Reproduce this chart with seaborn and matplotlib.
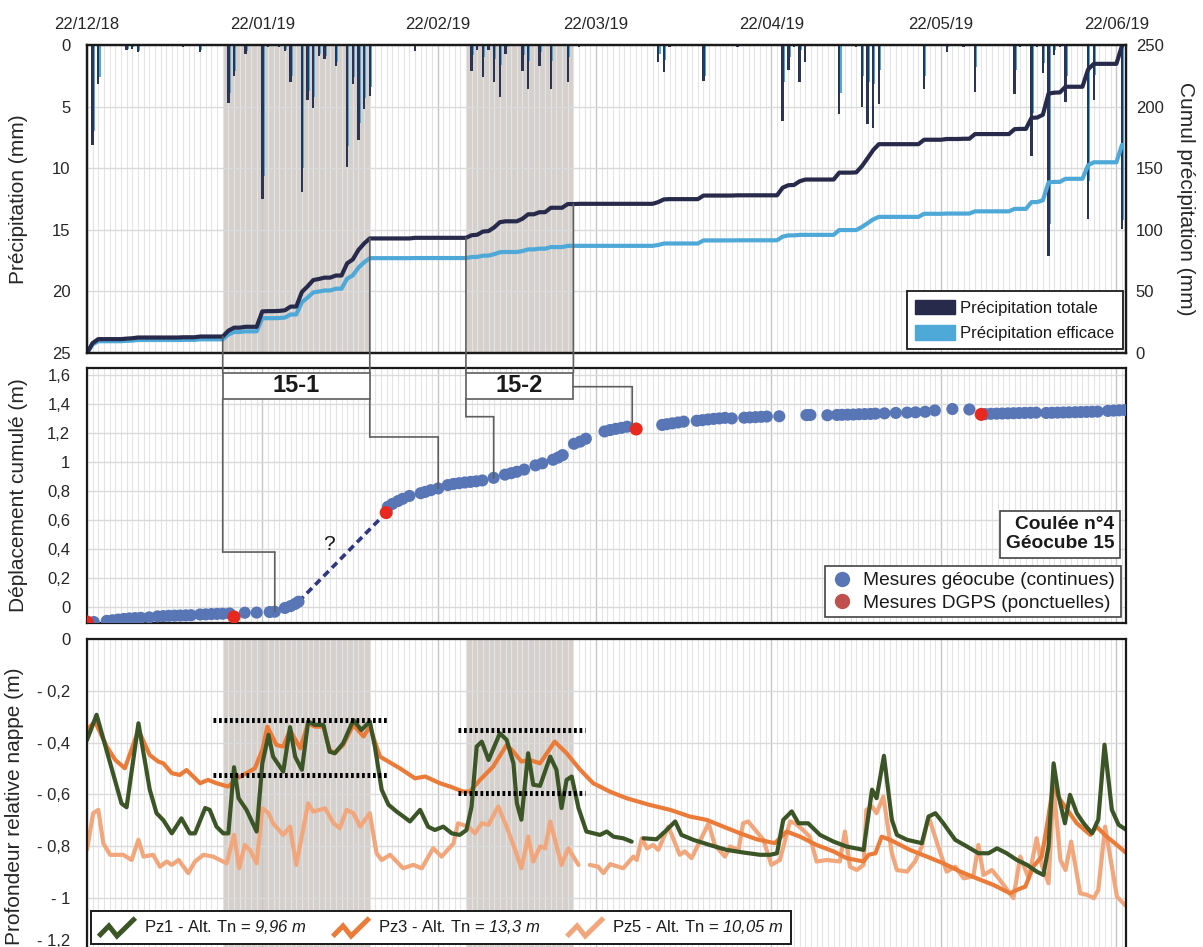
import numpy as np
import pandas as pd
import matplotlib
matplotlib.use("Agg")
import matplotlib.pyplot as plt
import matplotlib.dates as mdates
from matplotlib.patches import Rectangle, ConnectionPatch, Patch
from matplotlib.lines import Line2D
from matplotlib.legend_handler import HandlerBase
from matplotlib.ticker import FuncFormatter
import seaborn as sns

sns.set_style("white")
plt.rcParams["font.family"] = ["Liberation Sans", "DejaVu Sans"]
# math segments are only used for the italic altitude values in the legend
plt.rcParams["mathtext.fontset"] = "custom"
plt.rcParams["mathtext.rm"] = "Liberation Sans:italic"
plt.rcParams["mathtext.it"] = "Liberation Sans:italic"
plt.rcParams["text.color"] = "#1a1a1a"

# ---------------------------------------------------------------- data
START = pd.Timestamp("2018-12-22")      # day 0
END_DAY = 183.7

# daily rainfall (day index, mm)
rain_days = [1, 2, 7, 8, 9, 17, 20,
             25, 26, 28, 31, 32, 34, 35, 36, 38, 39, 40, 41, 42, 44, 46, 47, 48, 49, 50,
             58, 68, 69, 70, 71, 72, 73, 74, 77, 78, 80, 82, 85, 87,
             101, 102, 103, 109, 115, 123, 124, 125, 126, 127, 133, 136, 137, 138, 139, 140,
             148, 152, 155, 157, 164, 165, 167, 168, 169, 170, 171, 172, 173, 177, 178, 183]
rain_total = [8.1, 3.2, 0.4, 0.3, 0.6, 0.2, 0.6,
              4.7, 2.5, 0.7, 12.5, 0.2, 0.2, 0.5, 3.0, 11.9, 4.5, 5.1, 0.9, 1.1, 1.7, 9.9, 3.2, 7.7, 5.2, 4.1,
              0.5, 2.1, 0.4, 2.6, 0.4, 3.0, 4.2, 0.7, 2.1, 3.6, 1.7, 3.6, 3.0, 0.2,
              1.4, 2.2, 0.2, 2.9, 0.2, 6.2, 2.0, 0.2, 3.0, 1.4, 5.6, 0.2, 5.0, 6.4, 6.7, 4.8,
              3.6, 0.6, 0.2, 3.8, 4.0, 0.2, 9.0, 0.2, 2.3, 17.1, 0.8, 0.2, 4.6, 14.1, 4.5, 14.9]
rain_eff = [7.0, 2.6, 0.3, 0.2, 0.5, 0.1, 0.4,
            3.9, 2.1, 0.5, 10.6, 0.1, 0.1, 0.4, 2.5, 10.0, 3.7, 4.2, 0.7, 0.9, 1.4, 8.2, 2.6, 6.3, 4.3, 3.4,
            0.1, 0.8, 0.1, 1.0, 0.1, 1.1, 1.6, 0.2, 0.8, 1.3, 0.6, 1.3, 1.0, 0.0,
            0.7, 1.2, 0.0, 2.5, 0.1, 3.0, 1.0, 0.0, 0.4, 0.0, 3.9, 0.0, 2.5, 3.0, 3.2, 2.0,
            2.5, 0.2, 0.0, 1.8, 2.0, 0.0, 5.5, 0.0, 1.5, 14.5, 0.4, 0.0, 2.5, 11.0, 2.4, 14.2]

# reactivation periods (day index)
periods = [(24, 50), (67, 86)]
period_names = ["15-1", "15-2"]

# Geocube 15 cumulated displacement (day index, m)
geo_days = [1.2, 3.5, 4.5, 5.5, 6.5, 7.5, 8.5, 9.5, 11.0,
            12.5, 13.5, 14.5, 15.5, 16.5, 17.5, 18.4,
            20.0, 21.0, 22.0, 23.0, 24.0, 25.2,
            27.9, 30.0, 32.3, 33.2, 35.0, 36.0, 36.8, 37.4,
            53.2, 54.0, 55.0, 55.8, 57.0, 59.0, 59.8, 60.8, 62.1,
            63.8, 64.8, 65.8, 66.8, 67.8, 68.8, 69.9, 71.9,
            73.9, 75.0, 76.0, 77.3, 79.3, 80.5, 82.4, 83.3, 84.1, 86.1, 87.2, 88.2,
            91.5, 92.5, 93.5, 94.5, 95.5, 101.7, 102.5, 103.5, 104.5, 105.5,
            107.8, 108.8, 109.8, 110.8, 111.8, 112.8, 114.0,
            116.2, 117.2, 118.2, 119.2, 120.2, 122.4, 127.2, 127.9, 130.9,
            132.6, 133.5, 134.5, 135.5, 136.5, 137.5, 138.5, 139.4,
            141.0, 143.0, 145.0, 146.5, 148.2, 149.9, 153.0, 156.0,
            158.8, 159.8, 160.8, 161.8, 162.8, 163.8, 164.8, 165.8, 166.8, 167.8,
            169.6, 170.6, 171.6, 172.6, 173.6, 174.7, 175.7, 176.7, 177.7, 178.7,
            180.5, 181.5, 182.5, 183.5]
geo_vals = [-0.105, -0.097, -0.093, -0.088, -0.084, -0.080, -0.078, -0.076, -0.073,
            -0.066, -0.064, -0.062, -0.061, -0.060, -0.059, -0.058,
            -0.053, -0.052, -0.050, -0.049, -0.048, -0.046,
            -0.041, -0.040, -0.036, -0.034, -0.008, 0.005, 0.020, 0.035,
            0.690, 0.710, 0.730, 0.745, 0.765, 0.784, 0.793, 0.805, 0.817,
            0.840, 0.848, 0.853, 0.858, 0.862, 0.866, 0.872, 0.890,
            0.912, 0.922, 0.932, 0.947, 0.976, 0.990, 1.015, 1.030, 1.047, 1.125, 1.140, 1.160,
            1.210, 1.220, 1.228, 1.235, 1.243, 1.255, 1.260, 1.266, 1.272, 1.278,
            1.284, 1.288, 1.293, 1.297, 1.300, 1.304, 1.300,
            1.305, 1.307, 1.309, 1.311, 1.313, 1.315, 1.323, 1.324, 1.322,
            1.324, 1.325, 1.326, 1.327, 1.329, 1.330, 1.331, 1.333,
            1.335, 1.338, 1.340, 1.342, 1.346, 1.355, 1.365, 1.362,
            1.330, 1.332, 1.333, 1.334, 1.335, 1.336, 1.337, 1.338, 1.339, 1.340,
            1.338, 1.339, 1.340, 1.341, 1.342, 1.343, 1.344, 1.345, 1.346, 1.347,
            1.352, 1.354, 1.356, 1.358]
dgps_days = [0.0, 26.0, 52.9, 97.1, 158.1]
dgps_vals = [-0.105, -0.070, 0.650, 1.227, 1.328]
gap_days = [37.4, 52.9]          # unmeasured stretch, drawn dashed
gap_vals = [0.035, 0.650]

# relative groundwater depth (day index, m); NaN = no record
NA = float("nan")
pz1 = [(0, -0.39), (1.7, -0.292), (6.1, -0.635), (7.0, -0.65), (9.1, -0.325), (11.1, -0.582),
       (12.3, -0.673), (13.5, -0.70), (15.0, -0.751), (16.7, -0.693), (18.2, -0.751), (19.1, -0.751),
       (20.9, -0.653), (21.7, -0.66), (22.9, -0.725), (24.1, -0.751), (25.0, -0.751), (26.0, -0.495),
       (26.8, -0.615), (28.2, -0.66), (30.0, -0.744), (31.0, -0.48), (32.1, -0.37), (32.9, -0.454),
       (34.7, -0.512), (35.9, -0.34), (36.8, -0.454), (38.0, -0.505), (39.1, -0.318), (40.3, -0.331),
       (41.8, -0.331), (42.9, -0.435), (43.8, -0.441), (45.3, -0.402), (47.1, -0.312), (48.5, -0.351),
       (50.0, -0.318), (50.9, -0.415), (52.1, -0.582), (53.3, -0.64), (54.7, -0.666), (55.9, -0.685),
       (57.1, -0.705), (58.9, -0.66), (60.3, -0.725), (61.5, -0.738), (63.0, -0.725), (64.5, -0.751),
       (65.9, -0.757), (67.1, -0.738), (68.0, -0.647), (68.9, -0.415), (69.8, -0.396), (71.0, -0.467),
       (73.0, -0.364), (74.2, -0.389), (75.4, -0.48), (76.0, -0.634), (76.8, -0.698), (78.0, -0.441),
       (78.9, -0.563), (80.1, -0.567), (81.9, -0.454), (83.0, -0.505), (83.9, -0.653), (84.8, -0.544),
       (85.7, -0.531), (86.9, -0.653), (88.3, -0.744), (90.7, -0.757), (91.9, -0.744), (93.1, -0.764),
       (94.8, -0.77), (96.3, -0.783), (97.3, NA), (98.4, -0.77), (100.7, -0.774), (102.2, -0.744),
       (104.0, -0.705), (105.1, -0.757), (107.2, -0.776), (110.1, -0.796), (113.1, -0.815),
       (116.0, -0.825), (119.0, -0.834), (120.8, -0.834), (122.0, -0.828), (123.1, -0.699),
       (124.6, -0.666), (125.8, -0.712), (127.5, -0.712), (129.6, -0.757), (132.0, -0.783),
       (134.3, -0.802), (137.3, -0.815), (138.8, -0.582), (139.6, -0.615), (140.9, -0.451),
       (142.3, -0.698), (143.2, -0.757), (145.0, -0.776), (147.6, -0.789), (148.8, -0.686),
       (150.0, -0.673), (151.4, -0.712), (153.5, -0.776), (155.6, -0.802), (157.6, -0.828),
       (159.4, -0.828), (160.9, -0.809), (162.6, -0.828), (164.4, -0.854), (166.2, -0.873),
       (167.9, -0.899), (169.1, -0.912), (170.0, -0.802), (170.9, -0.48), (171.8, -0.609),
       (172.9, -0.712), (173.8, -0.602), (175.0, -0.673), (176.2, -0.712), (177.7, -0.751),
       (178.8, -0.698), (179.9, -0.408), (181.2, -0.66), (182.4, -0.718), (183.8, -0.738)]
pz3 = [(0, -0.351), (1.4, -0.318), (3.5, -0.415), (5.0, -0.467), (6.7, -0.499), (9.1, -0.351),
       (11.1, -0.448), (12.6, -0.473), (13.5, -0.48), (15.0, -0.518), (16.4, -0.525), (17.6, -0.506),
       (18.8, -0.531), (20.0, -0.557), (21.4, -0.544), (22.9, -0.557), (25.0, -0.57), (26.5, -0.538),
       (28.2, -0.518), (29.7, -0.499), (31.0, -0.428), (31.9, -0.338), (33.5, -0.409), (34.7, -0.415),
       (35.9, -0.351), (37.7, -0.422), (39.1, -0.325), (40.3, -0.338), (41.8, -0.338), (42.9, -0.428),
       (43.8, -0.441), (45.3, -0.409), (47.1, -0.331), (48.9, -0.376), (50.0, -0.338), (51.8, -0.454),
       (55.3, -0.499), (58.0, -0.538), (59.8, -0.531), (62.4, -0.557), (64.2, -0.57), (66.5, -0.589),
       (67.7, -0.589), (69.5, -0.544), (71.8, -0.493), (74.2, -0.409), (75.4, -0.435), (76.8, -0.473),
       (78.3, -0.467), (80.1, -0.48), (82.7, -0.396), (84.8, -0.441), (87.2, -0.505), (89.5, -0.557),
       (92.5, -0.59), (95.4, -0.615), (99.5, -0.641), (103.1, -0.66), (106.6, -0.686), (109.6, -0.699),
       (112.5, -0.725), (115.5, -0.751), (118.4, -0.774), (121.6, -0.789), (123.7, -0.744),
       (126.1, -0.764), (129.0, -0.796), (132.0, -0.821), (134.3, -0.847), (137.3, -0.86),
       (138.2, -0.834), (139.4, -0.828), (140.5, -0.764), (142.0, -0.776), (145.5, -0.815),
       (148.5, -0.841), (151.4, -0.867), (154.4, -0.899), (157.3, -0.925), (160.3, -0.951),
       (163.2, -0.983), (164.4, -0.97), (165.9, -0.957), (167.3, -0.88), (168.8, -0.841),
       (169.7, -0.725), (170.8, -0.57), (172.1, -0.622), (175.0, -0.712), (177.4, -0.757),
       (178.5, -0.725), (180.3, -0.764), (182.1, -0.796), (183.8, -0.828)]
pz5 = [(0, -0.815), (1.1, -0.673), (2.0, -0.66), (2.9, -0.79), (4.1, -0.834), (6.4, -0.834),
       (7.9, -0.854), (9.1, -0.776), (10.0, -0.841), (11.7, -0.834), (12.9, -0.88), (14.1, -0.86),
       (15.0, -0.873), (16.2, -0.854), (17.9, -0.905), (19.1, -0.86), (20.6, -0.834), (22.3, -0.841),
       (24.7, -0.867), (26.0, -0.757), (26.9, -0.886), (27.9, -0.796), (28.8, -0.815), (30.0, -0.867),
       (31.0, -0.654), (32.1, -0.673), (32.9, -0.712), (34.7, -0.757), (35.9, -0.725), (37.0, -0.873),
       (39.1, -0.635), (40.0, -0.667), (42.1, -0.654), (43.6, -0.712), (44.7, -0.731), (45.9, -0.66),
       (47.1, -0.673), (48.3, -0.725), (50.0, -0.673), (51.2, -0.828), (52.1, -0.854), (53.6, -0.834),
       (55.9, -0.886), (57.7, -0.873), (59.2, -0.886), (61.2, -0.809), (62.7, -0.841), (64.8, -0.79),
       (65.6, -0.712), (67.4, -0.725), (68.6, -0.751), (69.8, -0.712), (71.0, -0.718), (72.7, -0.647),
       (74.2, -0.725), (75.7, -0.815), (76.8, -0.886), (78.0, -0.764), (78.9, -0.86), (80.1, -0.802),
       (81.0, -0.809), (81.9, -0.705), (83.9, -0.873), (85.1, -0.809), (86.9, -0.873), (87.9, NA),
       (88.9, -0.873), (90.4, -0.88), (91.3, -0.905), (92.5, -0.87), (94.8, -0.886), (96.6, -0.841),
       (97.2, -0.854), (98.1, -0.77), (99.0, -0.809), (100.1, -0.796), (101.0, -0.815), (102.8, -0.725),
       (104.8, -0.834), (105.7, -0.821), (106.9, -0.847), (109.9, -0.712), (111.0, -0.796),
       (112.8, -0.841), (113.7, -0.802), (115.2, -0.815), (116.0, -0.712), (116.9, -0.705),
       (119.6, -0.776), (121.0, -0.873), (122.5, -0.854), (124.3, -0.705), (125.2, -0.712),
       (126.6, -0.738), (127.8, -0.764), (129.0, -0.86), (130.8, -0.854), (133.1, -0.86),
       (134.0, -0.744), (134.9, -0.88), (136.1, -0.893), (137.3, -0.873), (137.8, -0.66),
       (138.8, -0.647), (139.6, -0.673), (140.8, -0.609), (142.3, -0.828), (143.2, -0.893),
       (145.0, -0.899), (146.4, -0.86), (147.6, -0.802), (148.8, -0.686), (150.5, -0.802),
       (152.0, -0.899), (153.5, -0.88), (155.0, -0.925), (156.7, -0.918), (157.6, -0.796),
       (158.5, -0.912), (160.0, -0.893), (161.4, -0.931), (162.9, -0.976), (163.8, -1.002),
       (165.0, -0.841), (166.5, -0.925), (167.9, -0.77), (168.8, -0.873), (170.0, -0.944),
       (170.9, -0.57), (172.1, -0.854), (173.0, -0.893), (174.0, -0.783), (175.6, -0.983),
       (176.8, -0.989), (178.0, -1.002), (178.8, -0.97), (180.0, -0.725), (180.9, -0.841),
       (182.1, -0.996), (183.8, -1.034)]

# water-level plateaus reached during each period (day from, day to, depth)
plateaus = [(22.2, 53.1, -0.312), (22.2, 53.1, -0.525), (65.6, 88.0, -0.350), (65.6, 88.0, -0.593)]

# elbow connectors from the period boxes to the displacement curve
link_elbow = [0.378, 1.172, 1.312, 1.519]
link_target_day = [33.2, 62.1, 71.9, 96.4]

# ---------------------------------------------------------------- styling
NAVY = "#272a4a"
NAVY_BAR = "#2c3456"
SKY = "#4ea8d8"
SHADE = "#d5d0cc"
GEO_BLUE = "#5875b5"
DGPS_RED = "#e8291f"
DGPS_LEGEND = "#c0504d"
PZ1_C, PZ3_C, PZ5_C = "#3c5527", "#eb7b38", "#f1a67b"
LINK_C = "#5e5e5e"
FRAME_C = "#1a1a1a"


def to_date(days):
    return START + pd.to_timedelta(np.asarray(days, float), unit="D")


def dnum(day):
    return mdates.date2num(START + pd.Timedelta(days=float(day)))


fig = plt.figure(figsize=(12.03, 9.47), dpi=100)
L, W = 0.0723, 0.8637
ax_top = fig.add_axes([L, 0.6272, W, 0.3253])
ax_mid = fig.add_axes([L, 0.3424, W, 0.2690], sharex=ax_top)
ax_bot = fig.add_axes([L, -0.0025, W, 0.3274], sharex=ax_top)
ax_cum = ax_top.twinx()

for ax in (ax_top, ax_mid, ax_bot):
    ax.set_axisbelow(True)
    ax.grid(True, which="minor", axis="x", color="#e4e4e4", lw=0.8)
    ax.grid(True, which="major", axis="x", color="#c6c6c6", lw=1.0)
    ax.grid(True, which="major", axis="y", color="#dadada", lw=1.0)
for ax in (ax_top, ax_bot):
    for a, b in periods:
        ax.axvspan(dnum(a), dnum(b), color=SHADE, lw=0, zorder=0.1)

# ---------------------------------------------------------------- rainfall
daily_total = np.zeros(184)
daily_eff = np.zeros(184)
daily_total[rain_days] = rain_total
daily_eff[rain_days] = rain_eff
cum_total = np.cumsum(daily_total)
cum_eff = np.cumsum(daily_eff)
all_days = np.arange(184)

rd = np.array(rain_days, float)
ax_top.bar(to_date(rd + 0.25), rain_eff, width=0.3, color=SKY, lw=0, zorder=2)
ax_top.bar(to_date(rd), rain_total, width=0.42, color=NAVY_BAR, lw=0, zorder=3)
ax_top.set_ylim(25, 0)
ax_top.set_yticks(range(0, 26, 5))

sns.lineplot(x=to_date(all_days), y=cum_eff, ax=ax_cum, color=SKY, lw=3.0, legend=False)
sns.lineplot(x=to_date(all_days), y=cum_total, ax=ax_cum, color=NAVY, lw=3.0, legend=False)
ax_cum.set_ylim(0, 250)
ax_cum.set_yticks(range(0, 251, 50))
ax_cum.grid(False)

# ---------------------------------------------------------------- displacement
ax_mid.plot(to_date(gap_days), gap_vals, color="#2e3780", lw=2.6,
            linestyle=(0, (2.0, 1.3)), zorder=3)
sns.scatterplot(x=to_date(geo_days), y=geo_vals, ax=ax_mid, color=GEO_BLUE, s=76,
                edgecolor="none", zorder=4, legend=False)
sns.scatterplot(x=to_date(dgps_days), y=dgps_vals, ax=ax_mid, color=DGPS_RED, s=88,
                edgecolor="none", zorder=5, legend=False)
ax_mid.text(dnum(42.8), 0.43, "?", fontsize=15, ha="center", va="center")
ax_mid.set_ylim(-0.11, 1.648)
ax_mid.set_yticks(np.arange(0, 1.61, 0.2))
ax_mid.yaxis.set_major_formatter(FuncFormatter(lambda v, _: f"{v:g}".replace(".", ",")))

# ---------------------------------------------------------------- groundwater


def plot_pz(ax, pairs, color):
    arr = np.array(pairs, float)
    seg = np.cumsum(np.isnan(arr[:, 1]))
    df = pd.DataFrame({"date": to_date(arr[:, 0]), "depth": arr[:, 1], "seg": seg}).dropna()
    sns.lineplot(data=df, x="date", y="depth", units="seg", estimator=None, sort=False,
                 color=color, lw=3.0, ax=ax, legend=False, solid_joinstyle="round",
                 solid_capstyle="round")


plot_pz(ax_bot, pz5, PZ5_C)
plot_pz(ax_bot, pz3, PZ3_C)
plot_pz(ax_bot, pz1, PZ1_C)
for a, b, y in plateaus:
    ax_bot.plot([dnum(a), dnum(b)], [y, y], color="black", lw=3.6,
                linestyle=(0, (0.55, 0.55)), solid_capstyle="butt", zorder=6)
ax_bot.set_ylim(-1.2, 0)
bot_ticks = np.round(np.arange(-1.2, 0.01, 0.2), 1)
bot_labels = ["0" if abs(v) < 1e-9 else f"- {abs(v):g}".replace(".", ",") for v in bot_ticks]
ax_bot.set_yticks(bot_ticks, labels=bot_labels)
ax_bot.get_yticklabels()[0].set_va("bottom")

# ---------------------------------------------------------------- shared x axis
ax_top.set_xlim(START, START + pd.Timedelta(days=END_DAY))
ax_top.xaxis.set_major_locator(mdates.DayLocator(bymonthday=22))
ax_top.xaxis.set_minor_locator(mdates.DayLocator())
ax_top.xaxis.set_major_formatter(mdates.DateFormatter("%d/%m/%y"))

ax_top.tick_params(axis="x", which="both", length=0, labeltop=True, labelbottom=False,
                   labelsize=12, pad=9)
for ax in (ax_mid, ax_bot):
    ax.tick_params(axis="x", which="both", length=0, labeltop=False, labelbottom=False)
for ax in (ax_top, ax_mid, ax_bot):
    ax.tick_params(axis="y", length=0, labelsize=12, pad=12)
    ax.set_xlabel("")
ax_cum.tick_params(axis="y", length=0, labelsize=12, pad=7)
ax_cum.set_xlabel("")

for ax in (ax_top, ax_mid, ax_bot, ax_cum):
    for sp in ax.spines.values():
        sp.set_color(FRAME_C)
        sp.set_linewidth(1.6)

ax_top.set_ylabel("Précipitation (mm)", fontsize=15)
ax_top.yaxis.set_label_coords(-0.057, 0.5)
ax_cum.set_ylabel("Cumul précipitation (mm)", fontsize=15, rotation=270)
ax_cum.yaxis.set_label_coords(1.057, 0.5)
ax_cum.yaxis.label.set_va("center")
ax_mid.set_ylabel("Déplacement cumulé (m)", fontsize=15)
ax_mid.yaxis.set_label_coords(-0.057, 0.5)
ax_bot.set_ylabel("Profondeur relative nappe (m)", fontsize=15)
ax_bot.yaxis.set_label_coords(-0.061, 0.46)

# ---------------------------------------------------------------- legends
leg_top = ax_cum.legend(
    [Patch(facecolor=NAVY, edgecolor=NAVY), Patch(facecolor=SKY, edgecolor=SKY)],
    ["Précipitation totale", "Précipitation efficace"],
    loc="lower right", bbox_to_anchor=(0.997, 0.012), borderaxespad=0, fontsize=12,
    frameon=True, fancybox=False, framealpha=1, edgecolor=FRAME_C, handlelength=2.4,
    handleheight=1.0, handletextpad=0.3, labelspacing=0.55, borderpad=0.5)
leg_top.get_frame().set_linewidth(1.3)

leg_mid = ax_mid.legend(
    [Line2D([], [], ls="", marker="o", ms=10, mfc=GEO_BLUE, mec=GEO_BLUE),
     Line2D([], [], ls="", marker="o", ms=10, mfc=DGPS_LEGEND, mec=DGPS_LEGEND)],
    ["Mesures géocube (continues)", "Mesures DGPS (ponctuelles)"],
    loc="lower right", bbox_to_anchor=(0.995, 0.021), borderaxespad=0, fontsize=13.8,
    frameon=True, fancybox=False, framealpha=1, edgecolor="#444444", handlelength=1.2,
    handletextpad=0.5, labelspacing=0.25, borderpad=0.3)
leg_mid.get_frame().set_linewidth(1.2)

ax_mid.text(0.9885, 0.276, "Coulée n°4\nGéocube 15", transform=ax_mid.transAxes,
            fontsize=13.8, fontweight="bold", ha="right", va="bottom", linespacing=1.15,
            zorder=7, bbox=dict(boxstyle="square,pad=0.3", fc="white", ec="#444444", lw=1.2))


class CheckHandler(HandlerBase):
    def create_artists(self, legend, orig_handle, xdescent, ydescent, width, height,
                       fontsize, trans):
        xs = np.array([0.0, 0.28, 0.5, 1.0]) * width - xdescent
        ys = (np.array([0.0, 0.6, 0.02, 1.05]) * 1.5 - 0.35) * height - ydescent
        ln = Line2D(xs, ys, color=orig_handle.get_color(), lw=orig_handle.get_linewidth(),
                    solid_joinstyle="miter", solid_capstyle="butt", transform=trans)
        return [ln]


pz_handles = [Line2D([], [], color=c, lw=3.6) for c in (PZ1_C, PZ3_C, PZ5_C)]
pz_labels = ["Pz1 - Alt. Tn = $9{,}96\\ m$",
             "Pz3 - Alt. Tn = $13{,}3\\ m$",
             "Pz5 - Alt. Tn = $10{,}05\\ m$"]
leg_bot = ax_bot.legend(pz_handles, pz_labels, handler_map={Line2D: CheckHandler()},
                        ncol=3, loc="lower left", bbox_to_anchor=(0.004, 0.018),
                        borderaxespad=0, fontsize=12, frameon=True, fancybox=False,
                        framealpha=1, edgecolor=FRAME_C, handlelength=2.2,
                        handletextpad=0.5, columnspacing=1.6, borderpad=0.45)
leg_bot.get_frame().set_linewidth(1.4)

# ---------------------------------------------------------------- period boxes and links
BOX_TOP, BOX_BOT = 1.614, 1.434
for (a, b), name in zip(periods, period_names):
    ax_mid.add_patch(Rectangle((dnum(a), BOX_BOT), dnum(b) - dnum(a), BOX_TOP - BOX_BOT,
                               fc="white", ec="#6a6a6a", lw=1.3, zorder=6, clip_on=False))
    ax_mid.text((dnum(a) + dnum(b)) / 2, (BOX_TOP + BOX_BOT) / 2, name, fontsize=17,
                fontweight="bold", ha="center", va="center", zorder=7)

pt_days = np.concatenate([geo_days, dgps_days])
pt_vals = np.concatenate([geo_vals, dgps_vals])
order = np.argsort(pt_days)
pt_days, pt_vals = pt_days[order], pt_vals[order]

edges = [periods[0][0], periods[0][1], periods[1][0], periods[1][1]]


def link(points):
    for (axa, xa, ya), (axb, xb, yb) in zip(points[:-1], points[1:]):
        cp = ConnectionPatch(xyA=(dnum(xa), ya), coordsA=axa.transData,
                             xyB=(dnum(xb), yb), coordsB=axb.transData,
                             color=LINK_C, lw=1.2, zorder=3)
        fig.add_artist(cp)


for i, d in enumerate(edges):
    link([(ax_cum, d, cum_total[d]), (ax_mid, d, BOX_TOP)])
    tday = link_target_day[i]
    tval = np.interp(tday, pt_days, pt_vals) + (0.02 if i == 3 else 0.0)
    if i < 3:
        link([(ax_mid, d, BOX_BOT), (ax_mid, d, link_elbow[i]),
              (ax_mid, tday, link_elbow[i]), (ax_mid, tday, tval)])
    else:
        link([(ax_mid, d, link_elbow[i]), (ax_mid, tday, link_elbow[i]),
              (ax_mid, tday, tval)])

fig.savefig("out.png", dpi=100, facecolor="white")
